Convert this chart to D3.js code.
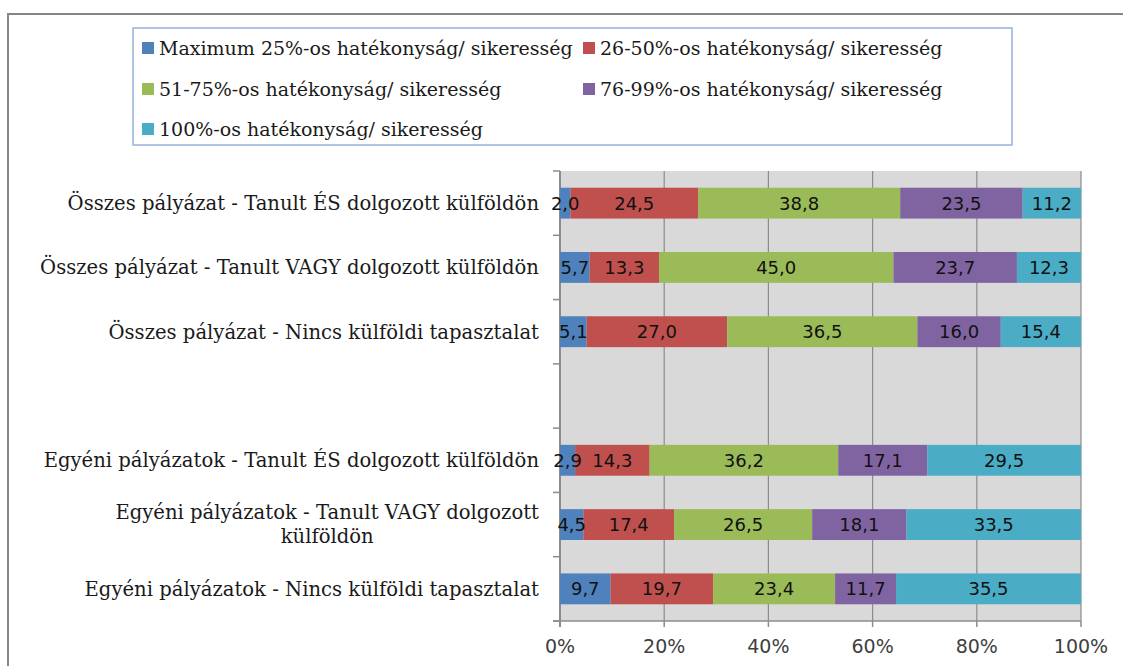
<!DOCTYPE html>
<html>
<head>
<meta charset="utf-8">
<script src="https://cdn.jsdelivr.net/npm/d3@7"></script>
<style>
  body { margin: 0; background: #ffffff; }
  svg { display: block; }
</style>
</head>
<body>
<div class="container"></div>
<script>
// categories, top to bottom (one empty slot in the middle)
var categories = [
  "Összes pályázat - Tanult ÉS dolgozott külföldön",
  "Összes pályázat - Tanult VAGY  dolgozott külföldön",
  "Összes pályázat - Nincs külföldi tapasztalat",
  "",
  "Egyéni pályázatok - Tanult ÉS dolgozott külföldön",
  "Egyéni pályázatok - Tanult VAGY dolgozott|külföldön",
  "Egyéni pályázatok - Nincs külföldi tapasztalat"
];

var seriesNames = [
  "Maximum 25%-os hatékonyság/ sikeresség",
  "26-50%-os hatékonyság/ sikeresség",
  "51-75%-os hatékonyság/ sikeresség",
  "76-99%-os hatékonyság/ sikeresség",
  "100%-os hatékonyság/ sikeresség"
];

var seriesColors = ["#4f81bd", "#c0504d", "#9bbb59", "#8064a2", "#4bacc6"];

// values per series, in category order (null = empty slot)
var s1 = [2.0, 5.7, 5.1, null, 2.9, 4.5, 9.7];
var s2 = [24.5, 13.3, 27.0, null, 14.3, 17.4, 19.7];
var s3 = [38.8, 45.0, 36.5, null, 36.2, 26.5, 23.4];
var s4 = [23.5, 23.7, 16.0, null, 17.1, 18.1, 11.7];
var s5 = [11.2, 12.3, 15.4, null, 29.5, 33.5, 35.5];

var xTicks = [0, 0.2, 0.4, 0.6, 0.8, 1.0];

var W = 1123, H = 666;
var plot = { left: 560, right: 1081, top: 171, bottom: 621 };
var serif = "'DejaVu Serif', serif";
var sans = "'DejaVu Sans', sans-serif";

var svg = d3.select(".container").append("svg")
  .attr("width", W).attr("height", H);

// chart border
svg.append("rect")
  .attr("x", 8).attr("y", 14)
  .attr("width", W + 20).attr("height", H + 20)
  .attr("fill", "none")
  .attr("stroke", "#868686")
  .attr("stroke-width", 2);

// build rows
var series = [s1, s2, s3, s4, s5];
var rows = categories.map(function (c, i) {
  var r = { cat: c, idx: i };
  series.forEach(function (s, k) { r["k" + k] = s[i] == null ? 0 : s[i]; });
  r.total = series.reduce(function (a, s) { return a + (s[i] == null ? 0 : s[i]); }, 0);
  return r;
});
var keys = seriesNames.map(function (d, k) { return "k" + k; });
var stacked = d3.stack().keys(keys)(rows);

var x = d3.scaleLinear().domain([0, 1]).range([plot.left, plot.right]);
var y = d3.scaleBand().domain(d3.range(categories.length))
  .range([plot.top, plot.bottom]).paddingInner(0.52).paddingOuter(0.26);

// plot background
svg.append("rect")
  .attr("x", plot.left).attr("y", plot.top)
  .attr("width", plot.right - plot.left).attr("height", plot.bottom - plot.top)
  .attr("fill", "#d9d9d9");

// vertical gridlines
svg.append("g").selectAll("line").data(xTicks.slice(1)).join("line")
  .attr("x1", function (d) { return x(d); }).attr("x2", function (d) { return x(d); })
  .attr("y1", plot.top).attr("y2", plot.bottom)
  .attr("stroke", "#8c8c8c").attr("stroke-width", 1.2);

// y axis line + ticks (category boundaries)
var bounds = d3.range(categories.length + 1).map(function (i) {
  return plot.top + i * (plot.bottom - plot.top) / categories.length;
});
svg.append("line")
  .attr("x1", plot.left).attr("x2", plot.left)
  .attr("y1", plot.top).attr("y2", plot.bottom + 6)
  .attr("stroke", "#8c8c8c").attr("stroke-width", 2);
svg.append("g").selectAll("line").data(bounds).join("line")
  .attr("x1", plot.left - 7).attr("x2", plot.left)
  .attr("y1", function (d) { return d; }).attr("y2", function (d) { return d; })
  .attr("stroke", "#8c8c8c").attr("stroke-width", 1.5);

// x axis line + ticks
svg.append("line")
  .attr("x1", plot.left - 7).attr("x2", plot.right)
  .attr("y1", plot.bottom).attr("y2", plot.bottom)
  .attr("stroke", "#8c8c8c").attr("stroke-width", 1.5);
svg.append("g").selectAll("line").data(xTicks).join("line")
  .attr("x1", function (d) { return x(d); }).attr("x2", function (d) { return x(d); })
  .attr("y1", plot.bottom).attr("y2", plot.bottom + 6)
  .attr("stroke", "#8c8c8c").attr("stroke-width", 1.5);

// bars
var layer = svg.append("g").selectAll("g").data(stacked).join("g")
  .attr("fill", function (d, i) { return seriesColors[i]; });

layer.selectAll("rect")
  .data(function (d) { return d.filter(function (p) { return p.data.total > 0; }); })
  .join("rect")
  .attr("x", function (p) { return x(p[0] / p.data.total); })
  .attr("width", function (p) { return x(p[1] / p.data.total) - x(p[0] / p.data.total); })
  .attr("y", function (p) { return y(p.data.idx); })
  .attr("height", y.bandwidth());

// data labels (on top of everything)
svg.append("g").selectAll("g").data(stacked).join("g").selectAll("text")
  .data(function (d) { return d.filter(function (p) { return p.data.total > 0; }); })
  .join("text")
  .attr("x", function (p) { return (x(p[0] / p.data.total) + x(p[1] / p.data.total)) / 2; })
  .attr("y", function (p) { return y(p.data.idx) + y.bandwidth() / 2; })
  .attr("dy", "0.36em")
  .attr("text-anchor", "middle")
  .attr("font-family", sans).attr("font-size", 18)
  .attr("fill", "#111")
  .text(function (p) { return (p[1] - p[0]).toFixed(1).replace(".", ","); });

svg.append("g").selectAll("text").data(xTicks).join("text")
  .attr("x", function (d) { return x(d); })
  .attr("y", 653)
  .attr("text-anchor", "middle")
  .attr("font-family", sans).attr("font-size", 19)
  .attr("fill", "#404040")
  .text(function (d) { return Math.round(d * 100) + "%"; });

// category labels
var catG = svg.append("g").selectAll("text").data(categories).join("text")
  .attr("text-anchor", "end")
  .attr("font-family", serif).attr("font-size", 19.6)
  .attr("fill", "#1a1a1a");
catG.each(function (c, i) {
  var lines = c.split("|");
  var t = d3.select(this);
  var cy = y(i) + y.bandwidth() / 2;
  if (lines.length == 1) {
    t.append("tspan").attr("x", 539).attr("y", cy).attr("dy", "0.35em").text(lines[0]);
  } else {
    // first line right-aligned, second centered under it
    var first = t.append("tspan").attr("x", 539).attr("y", cy - 12).attr("dy", "0.35em").text(lines[0]);
    var w = first.node().getComputedTextLength();
    t.append("tspan").attr("x", 539 - w / 2).attr("y", cy + 12).attr("dy", "0.35em")
      .attr("text-anchor", "middle").text(lines[1]);
  }
});

// legend
svg.append("rect")
  .attr("x", 133).attr("y", 28).attr("width", 879).attr("height", 117)
  .attr("fill", "#fff").attr("stroke", "#95b3d7").attr("stroke-width", 1.5);

var legendPos = [[142, 48], [583, 48], [142, 89], [583, 89], [142, 129]];
var leg = svg.append("g").selectAll("g").data(seriesNames).join("g")
  .attr("transform", function (d, i) { return "translate(" + legendPos[i][0] + "," + legendPos[i][1] + ")"; });
leg.append("rect")
  .attr("x", 0).attr("y", -6).attr("width", 12).attr("height", 12)
  .attr("fill", function (d, i) { return seriesColors[i]; });
leg.append("text")
  .attr("x", 17).attr("y", 0).attr("dy", "0.35em")
  .attr("font-family", serif).attr("font-size", 19)
  .attr("fill", "#1a1a1a")
  .text(function (d) { return d; });
</script>
</body>
</html>
